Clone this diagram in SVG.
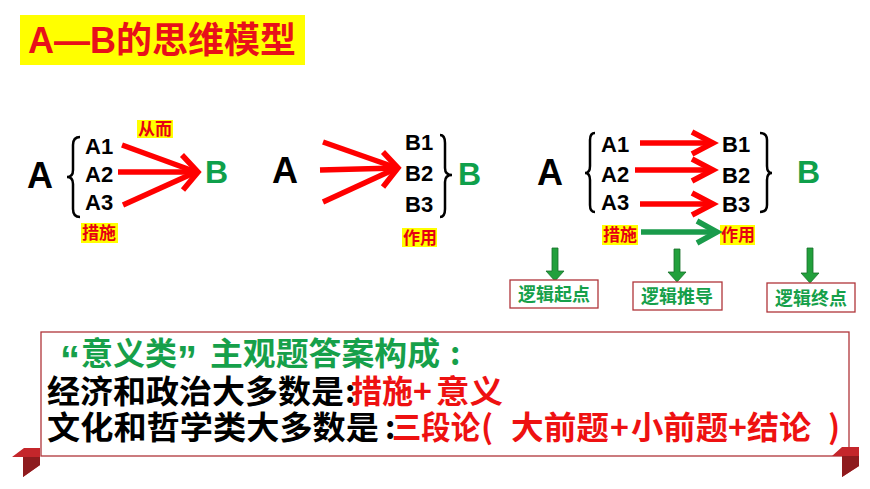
<svg xmlns="http://www.w3.org/2000/svg" width="870" height="489" viewBox="0 0 870 489">
<defs>
<style>
.lat{font-family:"Liberation Sans",Arial,"Noto Sans CJK SC",sans-serif;font-weight:bold;}
.cjk{font-family:"Noto Sans CJK SC","Liberation Sans",sans-serif;font-weight:bold;}
.big{font-size:36px;fill:#000;}
.gb{font-size:32px;fill:#0fa04b;}
.sub{font-size:22px;fill:#000;}
.lbl{font-size:17px;fill:#e60012;}
.hl{fill:#ffff00;}
.ra{stroke:#ff0000;stroke-width:5.5;fill:none;stroke-linecap:butt;stroke-linejoin:miter;}
.ga{stroke:#1a9b4b;stroke-width:5.5;fill:none;}
.br{stroke:#000;stroke-width:2.5;fill:none;}
.gtx{font-size:18px;fill:#16a04a;}
.box{fill:#fff;stroke:#b0353a;stroke-width:1.3;}
.dn{fill:#22a03c;stroke:#17702a;stroke-width:0.8;}
.l2{font-size:32px;}
.red{fill:#ee1111;}
</style>
</defs>
<rect width="870" height="489" fill="#fff"/>

<g id="title">
<rect x="20" y="15" width="285" height="50" fill="#ffff00"/>
<text x="28" y="53" class="lat" font-size="36" fill="#e8101a">A—B<tspan class="cjk">的思维模型</tspan></text>
</g>

<g id="diagram1">
<text x="27" y="188" class="lat big">A</text>
<path class="br" d="M80 137 Q73 137 73 145 L73 170 Q73 177 67 177 Q73 177 73 184 L73 209 Q73 217 80 217"/>
<text x="85" y="154" class="lat sub">A1</text>
<text x="85" y="182" class="lat sub">A2</text>
<text x="85" y="210" class="lat sub">A3</text>
<text x="205" y="183" class="lat gb">B</text>
<rect x="137" y="120" width="36" height="18" class="hl"/>
<text x="138" y="135" class="cjk lbl">从而</text>
<rect x="81" y="223" width="37" height="20" class="hl"/>
<text x="82" y="239" class="cjk lbl">措施</text>
</g>

<g id="diagram2">
<text x="272" y="183" class="lat big">A</text>
<text x="405" y="150" class="lat sub">B1</text>
<text x="405" y="181" class="lat sub">B2</text>
<text x="405" y="212" class="lat sub">B3</text>
<path class="br" d="M440 135 Q445 135 445 143 L445 168 Q445 175 452 175 Q445 175 445 182 L445 209 Q445 217 440 217"/>
<text x="458" y="185" class="lat gb">B</text>
<rect x="402" y="228" width="35" height="19" class="hl"/>
<text x="403" y="244" class="cjk lbl">作用</text>
</g>

<g id="diagram3">
<text x="537" y="185" class="lat big">A</text>
<path class="br" d="M595 133 Q590 133 590 140 L590 166 Q590 173 585 173 Q590 173 590 180 L590 205 Q590 212 595 212"/>
<text x="601" y="152" class="lat sub">A1</text>
<text x="601" y="182" class="lat sub">A2</text>
<text x="601" y="210" class="lat sub">A3</text>
<text x="722" y="152" class="lat sub">B1</text>
<text x="722" y="183" class="lat sub">B2</text>
<text x="722" y="212" class="lat sub">B3</text>
<path class="br" d="M760 133 Q767 133 767 140 L767 166 Q767 173 772 173 Q767 173 767 180 L767 205 Q767 212 760 212"/>
<text x="797" y="183" class="lat gb">B</text>
<rect x="602" y="225" width="36" height="20" class="hl"/>
<text x="603" y="241" class="cjk lbl">措施</text>
<rect x="720" y="225" width="35" height="20" class="hl"/>
<text x="721" y="241" class="cjk lbl">作用</text>
</g>

<g id="connectors">
<line class="ra" x1="122" y1="145" x2="196" y2="172"/>
<line class="ra" x1="118" y1="172" x2="196" y2="172"/>
<line class="ra" x1="123" y1="205" x2="196" y2="172"/>
<polyline class="ra" points="182,155 198,172 183,190"/>
<line class="ra" x1="323" y1="142" x2="397" y2="168"/>
<line class="ra" x1="320" y1="170" x2="397" y2="168"/>
<line class="ra" x1="323" y1="202" x2="397" y2="168"/>
<polyline class="ra" points="383,152 398,168 383,187"/>
<line class="ra" x1="640" y1="143" x2="712" y2="143"/>
<polyline class="ra" points="692,132 713,143 692,154"/>
<line class="ra" x1="635" y1="170" x2="712" y2="170"/>
<polyline class="ra" points="692,159 713,170 692,181"/>
<line class="ra" x1="640" y1="204" x2="712" y2="204"/>
<polyline class="ra" points="692,193 713,204 692,215"/>
<line class="ga" x1="641" y1="232" x2="716" y2="232"/>
<polyline class="ga" points="697,221 717,232 697,243"/>
<polygon class="dn" points="552,248 558,248 558,271 564,271 555,281 546,271 552,271"/>
<polygon class="dn" points="674,249 680,249 680,272 686,272 677,282 668,272 674,272"/>
<polygon class="dn" points="807,248 813,248 813,273 819,273 810,283 801,273 807,273"/>
</g>

<g id="start">
<rect x="510" y="280" width="88" height="28" class="box"/>
<text x="554" y="301" text-anchor="middle" class="cjk gtx">逻辑起点</text>
</g>
<g id="derive">
<rect x="633" y="282" width="89" height="28" class="box"/>
<text x="677" y="303" text-anchor="middle" class="cjk gtx">逻辑推导</text>
</g>
<g id="end">
<rect x="767" y="283" width="88" height="29" class="box"/>
<text x="811" y="305" text-anchor="middle" class="cjk gtx">逻辑终点</text>
</g>

<g id="summary">
<rect x="41" y="332" width="808" height="124" class="box"/>
<polygon points="12,457 24,448 40,448 40,465 23,477 23,457" fill="#c4262b"/>
<polygon points="23,457 40,457 40,465 23,477" fill="#8e1b1e"/>
<polygon points="832,456 842,447 859,447 859,466 842,477 842,456" fill="#c4262b"/>
<polygon points="842,456 859,456 859,466 842,477" fill="#8e1b1e"/>
<text class="cjk" font-size="32" fill="#16a04a" y="365"><tspan x="60" y="374" class="lat" font-size="40">“</tspan><tspan x="81" y="365">意义类</tspan><tspan x="177" y="374" class="lat" font-size="40">”</tspan><tspan x="210" y="365" textLength="230" lengthAdjust="spacingAndGlyphs">主观题答案构成</tspan><tspan x="450" y="365">:</tspan></text>
<text class="cjk l2" y="403" fill="#000"><tspan x="47" textLength="297" lengthAdjust="spacingAndGlyphs">经济和政治大多数是</tspan><tspan x="345">:</tspan><tspan x="351" class="red" textLength="62" lengthAdjust="spacingAndGlyphs">措施</tspan><tspan x="413" class="red">+</tspan><tspan x="436" class="red" textLength="67" lengthAdjust="spacingAndGlyphs">意义</tspan></text>
<text class="cjk l2" y="439" fill="#000"><tspan x="47" textLength="332" lengthAdjust="spacingAndGlyphs">文化和哲学类大多数是</tspan><tspan x="385">:</tspan><tspan x="392" class="red" textLength="88" lengthAdjust="spacingAndGlyphs">三段论</tspan><tspan x="481" class="red">(</tspan><tspan x="511" class="red" textLength="98" lengthAdjust="spacingAndGlyphs">大前题</tspan><tspan x="610" class="red">+</tspan><tspan x="631" class="red" textLength="97" lengthAdjust="spacingAndGlyphs">小前题</tspan><tspan x="728" class="red">+</tspan><tspan x="747" class="red" textLength="64" lengthAdjust="spacingAndGlyphs">结论</tspan><tspan x="828" class="red">)</tspan></text>
</g>
</svg>
